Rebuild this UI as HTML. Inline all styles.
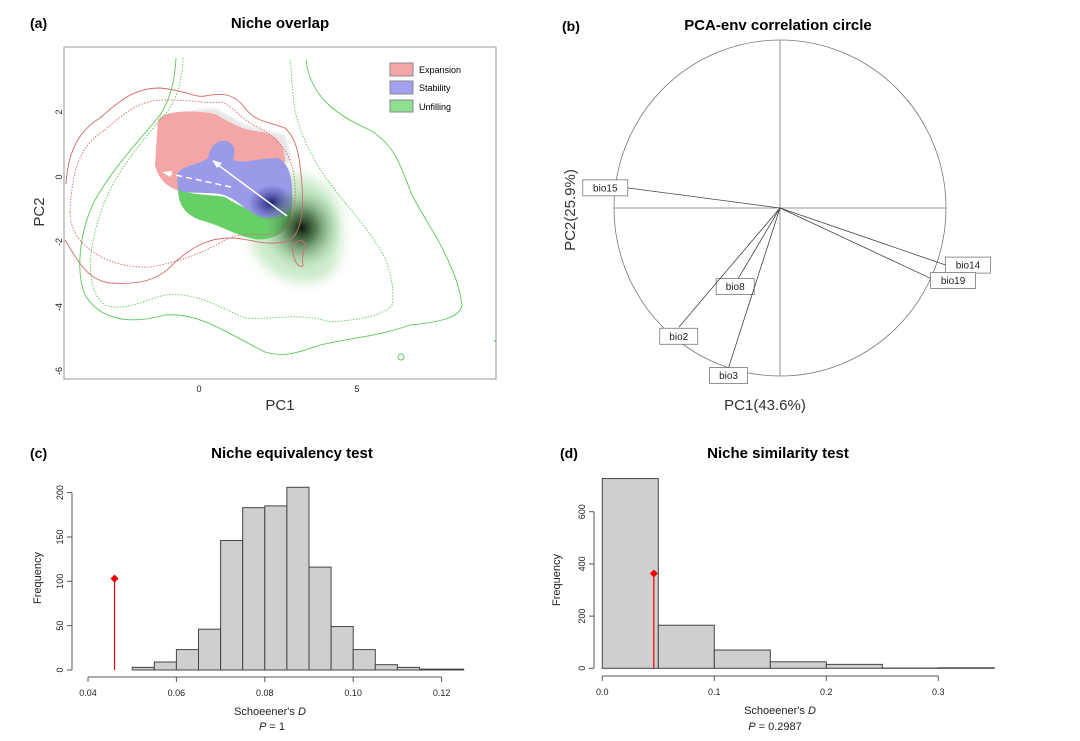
<!DOCTYPE html>
<html><head><meta charset="utf-8"><style>
body{margin:0;background:#fff;}
svg{display:block;font-family:"Liberation Sans",Arial,sans-serif;}
</style></head><body>
<svg id="fig" width="1080" height="741" viewBox="0 0 1080 741">
<defs>
<radialGradient id="dark" cx="0.5" cy="0.5" r="0.5">
<stop offset="0" stop-color="#0a1a0a" stop-opacity="1"/>
<stop offset="0.35" stop-color="#2f5a2f" stop-opacity="0.75"/>
<stop offset="1" stop-color="#8fcf8f" stop-opacity="0"/>
</radialGradient>
<radialGradient id="darkblue" cx="0.5" cy="0.5" r="0.5">
<stop offset="0" stop-color="#101060" stop-opacity="0.9"/>
<stop offset="1" stop-color="#3030a0" stop-opacity="0"/>
</radialGradient>
<filter id="blur"><feGaussianBlur stdDeviation="1.2"/></filter>
<filter id="blur2"><feGaussianBlur stdDeviation="6"/></filter>
</defs>

<!-- Panel a -->
<g>
<text x="30" y="28" font-size="14" font-weight="bold">(a)</text>
<text x="280" y="28" font-size="15" font-weight="bold" text-anchor="middle">Niche overlap</text>
<rect x="64" y="47" width="432" height="332" fill="#fff" stroke="#999" stroke-width="1"/>
<clipPath id="clipA"><rect x="64" y="47" width="432" height="332"/></clipPath>
<g clip-path="url(#clipA)">
<path d="M270,175 C300,170 335,180 340,215 C345,250 340,280 310,282 C280,285 262,265 250,245 Z" fill="#9fd89f" opacity="0.55" filter="url(#blur2)"/>
<path d="M155,115 L215,108 L245,125 L285,135 L292,160 L280,168 Z" fill="#ddd" opacity="0.7" filter="url(#blur)"/>
<path d="M158,120 C165,110 195,110 215,114 C230,122 240,130 262,132 C280,136 285,148 285,162 C275,162 250,160 235,162 C215,165 200,180 185,192 C170,190 158,180 155,165 Z" fill="#f4a6a6"/>
<path d="M178,188 C190,196 210,194 225,197 C245,210 270,220 292,205 L290,225 C280,238 262,242 250,238 C235,235 220,225 200,220 C185,214 178,205 178,188 Z" fill="#66d066"/>
<path d="M177,175 C180,165 200,165 208,158 C210,148 215,140 225,141 C235,142 236,152 233,160 C242,164 260,158 278,158 C292,165 293,185 292,205 C290,215 275,220 262,217 C245,212 238,198 220,194 C205,192 185,194 178,190 Z" fill="#9a9ae8"/>
<ellipse cx="272" cy="203" rx="24" ry="18" fill="url(#darkblue)"/>
<ellipse cx="302" cy="228" rx="40" ry="42" fill="url(#dark)"/>
<g fill="none" stroke-width="0.9">
<path stroke="#d46a6a" d="M66,184 C68,150 80,130 100,118 C120,100 135,88 160,88 C185,90 195,98 205,96 C225,92 235,95 245,108 C255,122 270,122 285,128 C298,140 300,160 302,185 C304,215 300,238 285,242 C260,246 250,238 230,238 C210,238 195,245 175,262 C160,280 140,285 110,283 C85,280 75,255 65,240"/>
<path stroke="#d46a6a" stroke-dasharray="1.5,1.5" d="M70,212 C72,170 80,145 105,130 C125,112 140,100 165,100 C195,100 210,104 222,102 C235,108 240,118 255,126 C275,135 290,150 294,175 C298,205 292,228 278,233 C260,237 245,230 225,240 C205,252 180,262 150,267 C120,268 95,258 80,240 C72,230 70,220 70,212"/>
<path stroke="#d46a6a" d="M292,247 C295,240 305,238 305,245 C303,252 302,260 303,266 C298,268 294,262 292,247"/>
<path stroke="#5cc85c" d="M176,58 C175,80 170,100 160,115 C140,140 115,165 95,200 C80,230 75,270 85,295 C100,320 130,325 165,315 C200,312 230,335 265,352 C285,358 300,352 320,345 C350,338 380,336 410,325 C440,322 460,318 462,305 C460,290 455,275 450,265 C440,240 425,220 412,195 C400,165 395,145 370,130 C335,115 310,95 306,60"/>
<path stroke="#5cc85c" stroke-dasharray="1.5,1.5" d="M183,58 C182,85 175,105 160,120 C135,150 110,180 100,215 C88,250 85,290 105,305 C125,312 145,300 165,295 C195,292 215,305 245,318 C275,320 300,312 330,322 C360,320 385,315 392,305 C395,290 390,270 385,258 C370,230 350,210 335,190 C315,165 300,135 295,110 C292,90 292,75 290,60"/>
<path stroke="#5cc85c" d="M398,357 a3,3 0 1,0 6,0 a3,3 0 1,0 -6,0"/>
<path stroke="#5cc85c" d="M494,340 L496,342"/>
</g>
<line x1="287" y1="216" x2="214" y2="162" stroke="#fff" stroke-width="1.5"/>
<path d="M212,160 L222,163 L217,168 Z" fill="#fff"/>
<line x1="231" y1="187" x2="166" y2="173" stroke="#fff" stroke-width="1.5" stroke-dasharray="6,4"/>
<path d="M162,172 L172,171 L170,177 Z" fill="#fff"/>
</g>
<g font-size="9">
<rect x="390" y="63" width="23" height="13" fill="#f4a6a6" stroke="#888"/>
<text x="419" y="73">Expansion</text>
<rect x="390" y="81" width="23" height="13" fill="#a0a0ee" stroke="#888"/>
<text x="419" y="91">Stability</text>
<rect x="390" y="100" width="23" height="12" fill="#8ee08e" stroke="#888"/>
<text x="419" y="110">Unfilling</text>
</g>
<g font-size="9" fill="#222">
<text x="199" y="392" text-anchor="middle">0</text>
<text x="357" y="392" text-anchor="middle">5</text>
<text transform="translate(62,112) rotate(-90)" text-anchor="middle">2</text>
<text transform="translate(62,177) rotate(-90)" text-anchor="middle">0</text>
<text transform="translate(62,242) rotate(-90)" text-anchor="middle">-2</text>
<text transform="translate(62,307) rotate(-90)" text-anchor="middle">-4</text>
<text transform="translate(62,371) rotate(-90)" text-anchor="middle">-6</text>
</g>
<text x="280" y="410" font-size="15" text-anchor="middle" fill="#333">PC1</text>
<text transform="translate(44,212) rotate(-90)" font-size="15" text-anchor="middle" fill="#333">PC2</text>
</g>

<!-- Panel b -->
<g id="panelB">
<text x="562" y="31" font-size="14" font-weight="bold">(b)</text>
<text x="778" y="30" font-size="15" font-weight="bold" text-anchor="middle">PCA-env correlation circle</text>
<ellipse cx="780" cy="208" rx="166" ry="168" fill="none" stroke="#777" stroke-width="0.8"/>
<line x1="614" y1="208" x2="946" y2="208" stroke="#777" stroke-width="0.8"/>
<line x1="780" y1="40" x2="780" y2="376" stroke="#777" stroke-width="0.8"/>
<text x="765" y="410" font-size="15" text-anchor="middle" fill="#333">PC1(43.6%)</text>
<text transform="translate(575,210) rotate(-90)" font-size="15" text-anchor="middle" fill="#333">PC2(25.9%)</text>
</g>

<!-- Panel c -->
<g id="panelC">
<text x="30" y="458" font-size="14" font-weight="bold">(c)</text>
<text x="292" y="458" font-size="15" font-weight="bold" text-anchor="middle">Niche equivalency test</text>
<text x="270" y="715" font-size="11" text-anchor="middle" fill="#222">Schoeener's <tspan font-style="italic">D</tspan></text>
<text x="272" y="730" font-size="11" text-anchor="middle" fill="#222"><tspan font-style="italic">P</tspan> = 1</text>
<text transform="translate(41,578) rotate(-90)" font-size="11" text-anchor="middle" fill="#222">Frequency</text>
</g>

<!-- Panel d -->
<g id="panelD">
<text x="560" y="458" font-size="14" font-weight="bold">(d)</text>
<text x="778" y="458" font-size="15" font-weight="bold" text-anchor="middle">Niche similarity test</text>
<text x="780" y="714" font-size="11" text-anchor="middle" fill="#222">Schoeener's <tspan font-style="italic">D</tspan></text>
<text x="775" y="730" font-size="11" text-anchor="middle" fill="#222"><tspan font-style="italic">P</tspan> = 0.2987</text>
<text transform="translate(560,580) rotate(-90)" font-size="11" text-anchor="middle" fill="#222">Frequency</text>
</g>
</svg>
<script>
const NS='http://www.w3.org/2000/svg';
function mk(parent,tag,attrs){const e=document.createElementNS(NS,tag);for(const k in attrs)e.setAttribute(k,attrs[k]);parent.appendChild(e);return e;}

// Panel b data
const bioNames=['bio15','bio14','bio19','bio8','bio2','bio3'];
const bioPC1=[-0.92,1.0,0.91,-0.27,-0.61,-0.31];
const bioPC2=[0.12,-0.34,-0.42,-0.45,-0.71,-0.95];
const bioLabelDX=[-22,22,22,0,0,0];
const bioLabelDY=[0,0,2,3,9,8];

// Panel c data
const cBinStart=[0.05,0.055,0.06,0.065,0.07,0.075,0.08,0.085,0.09,0.095,0.10,0.105,0.11,0.115,0.12];
const cCounts=[3,9,23,46,146,183,185,206,116,49,23,6,3,1,1];
const cObs=0.046, cObsY=103;
const cXTicks=[0.04,0.06,0.08,0.10,0.12];
const cXTickLabels=['0.04','0.06','0.08','0.10','0.12'];
const cYTicks=[0,50,100,150,200];

// Panel d data
const dBinStart=[0,0.05,0.1,0.15,0.2,0.25,0.3];
const dCounts=[727,165,70,25,15,1,2];
const dObs=0.046, dObsY=363;
const dXTicks=[0,0.1,0.2,0.3];
const dXTickLabels=['0.0','0.1','0.2','0.3'];
const dYTicks=[0,200,400,600];

// Panel b drawing
(function(){
  const g=document.getElementById('panelB');
  const cx=780,cy=208,rx=166,ry=168;
  const X=v=>cx+v*rx, Y=v=>cy-v*ry;
  bioNames.forEach((n,i)=>{
    const x=X(bioPC1[i]),y=Y(bioPC2[i]);
    const l=mk(g,'line',{x1:cx,y1:cy,x2:x,y2:y,stroke:'#444','stroke-width':0.8});
    
    
    const w=n.length>4?45:38;
    const lx=x+bioLabelDX[i], ly=y+bioLabelDY[i];
    const r=mk(g,'rect',{x:lx-w/2,y:ly-8,width:w,height:16,fill:'#fff',stroke:'#777','stroke-width':0.8});
    
    
    const t=mk(g,'text',{x:lx,y:ly+3.5,'font-size':10,'text-anchor':'middle',fill:'#222'});
    t.textContent=n;
    
    
  });
})();

function hist(gid,bins,counts,bw,xs,ys,xTicks,xLabels,yTicks,obs,obsY,axisY,yAxisX){
  const g=document.getElementById(gid);
  counts.forEach((c,i)=>{
    const x0=xs(bins[i]),x1=xs(bins[i]+bw);
    const r=mk(g,'rect',{x:x0,y:ys(c),width:x1-x0,height:ys(0)-ys(c),fill:'#cfcfcf',stroke:'#444','stroke-width':1});
    
    
  });
  const ax=mk(g,'line',{x1:xs(xTicks[0]),y1:axisY,x2:xs(xTicks[xTicks.length-1]),y2:axisY,stroke:'#555'});
  
  
  xTicks.forEach((v,i)=>{
    mk(g,'line',{x1:xs(v),y1:axisY,x2:xs(v),y2:axisY+5,stroke:'#555'});
    const t=mk(g,'text',{x:xs(v),y:axisY+19,'font-size':9,'text-anchor':'middle',fill:'#222'});
    t.textContent=xLabels[i];
    
    
  });
  const ay=mk(g,'line',{x1:yAxisX,y1:ys(yTicks[0]),x2:yAxisX,y2:ys(yTicks[yTicks.length-1]),stroke:'#555'});
  
  
  yTicks.forEach(v=>{
    mk(g,'line',{x1:yAxisX-5,y1:ys(v),x2:yAxisX,y2:ys(v),stroke:'#555'});
    const t=mk(g,'text',{transform:`translate(${yAxisX-9},${ys(v)}) rotate(-90)`,'font-size':9,'text-anchor':'middle',fill:'#222'});
    t.textContent=String(v);
    
    
  });
  const ol=mk(g,'line',{x1:xs(obs),y1:ys(0),x2:xs(obs),y2:ys(obsY),stroke:'#e00','stroke-width':1.2});
  
  
  const op=mk(g,'path',{d:`M${xs(obs)},${ys(obsY)-4} l4,4 l-4,4 l-4,-4 Z`,fill:'#e00'});
  
  
}
hist('panelC',cBinStart,cCounts,0.005,v=>88+(v-0.04)*4420,v=>670-v*0.887,cXTicks,cXTickLabels,cYTicks,cObs,cObsY,677,72);
hist('panelD',dBinStart,dCounts,0.05,v=>602.3+v*1120,v=>668.3-v*0.261,dXTicks,dXTickLabels,dYTicks,dObs,dObsY,676,594);
</script>
</body></html>
